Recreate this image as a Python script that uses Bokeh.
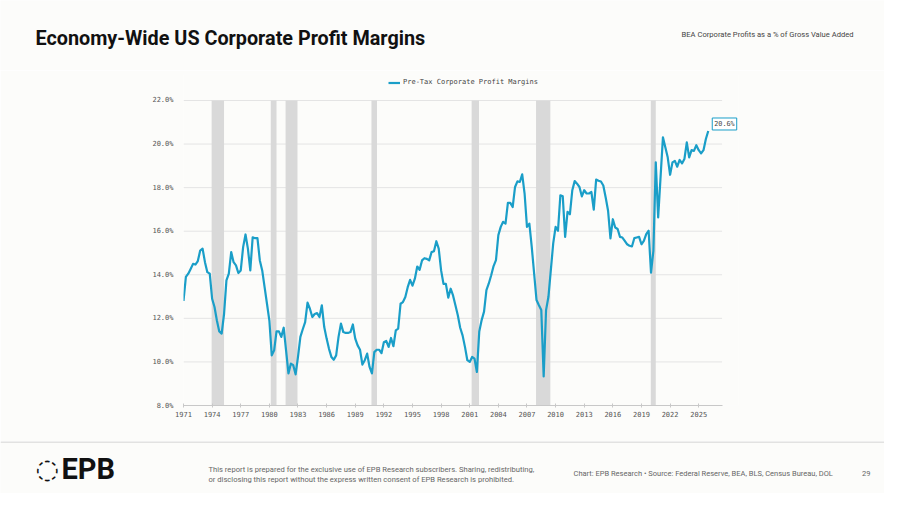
from bokeh.plotting import figure
from bokeh.layouts import column
from bokeh.models import (Range1d, FixedTicker, PrintfTickFormatter, Label,
                          BoxAnnotation, Legend, LegendItem, ColumnDataSource)
from bokeh.embed import file_html
from bokeh.resources import INLINE
import numpy as np

# ---------------- data ----------------
start_year = 1971.0  # first quarter shown (1971Q1)
margins = [
    12.8, 13.9, 14.05, 14.27,     # 1971
    14.5, 14.47, 14.63, 15.11,    # 1972
    15.2, 14.58, 14.12, 14.05,    # 1973
    12.9, 12.52, 11.9, 11.4,      # 1974
    11.3, 12.2, 13.74, 14.05,     # 1975
    15.04, 14.58, 14.43, 14.08,   # 1976
    14.2, 15.27, 15.85, 15.2,     # 1977
    14.2, 15.72, 15.68, 15.68,    # 1978
    14.66, 14.2, 13.43, 12.67,    # 1979
    11.9, 10.3, 10.53, 11.4,      # 1980
    11.4, 11.15, 11.57, 10.53,    # 1981
    9.47, 9.92, 9.85, 9.43,       # 1982
    10.23, 11.15, 11.5, 11.83,    # 1983
    12.72, 12.44, 12.06, 12.2,    # 1984
    12.24, 12.06, 12.6, 11.6,     # 1985
    11.07, 10.6, 10.23, 10.1,     # 1986
    10.3, 11.15, 11.76, 11.37,    # 1987
    11.33, 11.33, 11.37, 11.72,   # 1988
    11.07, 10.76, 10.56, 9.88,    # 1989
    10.08, 10.38, 9.77, 9.47,     # 1990
    10.45, 10.56, 10.56, 10.4,    # 1991
    10.9, 10.96, 10.69, 11.1,     # 1992
    10.72, 11.45, 11.53, 12.67,   # 1993
    12.75, 12.98, 13.43, 13.77,   # 1994
    13.5, 13.82, 14.38, 14.23,    # 1995
    14.66, 14.76, 14.73, 14.66,   # 1996
    15.04, 15.08, 15.54, 15.2,    # 1997
    14.2, 13.58, 13.58, 12.95,    # 1998
    13.36, 13.05, 12.6, 12.14,    # 1999
    11.57, 11.22, 10.69, 10.08,   # 2000
    10.0, 10.23, 10.15, 9.54,     # 2001
    11.4, 11.92, 12.31, 13.3,     # 2002
    13.6, 13.98, 14.4, 14.67,     # 2003
    15.82, 16.2, 16.43, 16.35,    # 2004
    17.3, 17.3, 17.11, 18.03,     # 2005
    18.29, 18.26, 18.61, 17.73,   # 2006
    16.2, 16.35, 15.28, 14.06,    # 2007
    12.84, 12.6, 12.38, 9.33,     # 2008
    12.38, 12.99, 14.21, 15.44,   # 2009
    16.2, 16.02, 17.65, 17.6,     # 2010
    15.74, 16.89, 16.78, 17.88,   # 2011
    18.3, 18.18, 18.03, 17.6,     # 2012
    17.88, 17.73, 17.73, 17.8,    # 2013
    16.99, 18.37, 18.32, 18.28,   # 2014
    18.1, 17.55, 16.94, 15.67,    # 2015
    16.55, 16.17, 16.1, 15.74,    # 2016
    15.71, 15.56, 15.4, 15.33,    # 2017
    15.3, 15.68, 15.71, 15.74,    # 2018
    15.4, 15.56, 15.87, 16.02,    # 2019
    14.1, 15.1, 19.16, 16.63,     # 2020
    18.47, 20.31, 19.85, 19.39,   # 2021
    18.59, 19.16, 19.23, 18.96,   # 2022
    19.27, 19.11, 19.31, 20.08,   # 2023
    19.39, 19.72, 19.69, 19.95,   # 2024
    19.72, 19.57, 19.72, 20.23,   # 2025
    20.6,
]
recession_start = [1973.95, 1980.15, 1981.7, 1990.7, 2001.2, 2007.95, 2019.98]
recession_end = [1975.25, 1980.75, 1982.95, 1991.28, 2001.97, 2009.45, 2020.5]
x_ticks = [1971, 1974, 1977, 1980, 1983, 1986, 1989, 1992, 1995, 1998,
           2001, 2004, 2007, 2010, 2013, 2016, 2019, 2022, 2025]
y_ticks = [8, 10, 12, 14, 16, 18, 20, 22]
series_name = "Pre-Tax Corporate Profit Margins"
title_text = "Economy-Wide US Corporate Profit Margins"
subtitle_text = "BEA Corporate Profits as a % of Gross Value Added"
disclaimer = ["This report is prepared for the exclusive use of EPB Research "
              "subscribers. Sharing, redistributing,",
              "or disclosing this report without the express written consent "
              "of EPB Research is prohibited."]
source_text = ("Chart: EPB Research  \u2022  Source: Federal Reserve, BEA, BLS, "
               "Census Bureau, DOL")
page_number = "29"

quarters = start_year + 0.25 * np.arange(len(margins))
src = ColumnDataSource(dict(x=quarters, y=margins))

# ---------------- styling ----------------
BG = "#fcfcfa"
BLUE = "#1a9ec8"
MONO = "DejaVu Sans Mono"
SANS = "Roboto"
W = 884
H_HEAD, H_MAIN, H_FOOT = 70, 371, 52
PLOT_END = 2027.45   # where grid lines / axis stop


def blank(h):
    f = figure(width=W, height=h, output_backend="svg", toolbar_location=None,
               x_range=Range1d(0, W), y_range=Range1d(h, 0),
               x_axis_location=None, y_axis_location=None,
               min_border_left=0, min_border_right=0,
               min_border_top=0, min_border_bottom=0, frame_align=False)
    f.grid.visible = False
    f.outline_line_color = None
    f.background_fill_color = BG
    f.border_fill_color = BG
    return f


def txt(f, x, y, text, size, font=SANS, style="normal", color="#222222",
        align="left"):
    f.add_layout(Label(x=x, y=y, text=text, text_font=font,
                       text_font_size=size, text_font_style=style,
                       text_color=color, text_align=align,
                       text_baseline="middle"))


# ---------------- header ----------------
head = blank(H_HEAD)
txt(head, 35, 38, title_text, "19.8px", style="bold", color="#111111")
txt(head, 853, 34, subtitle_text, "7.6px", color="#444444", align="right")

# ---------------- main chart ----------------
p = figure(width=W, height=H_MAIN, output_backend="svg", toolbar_location=None,
           x_range=Range1d(1971, 2029.17), y_range=Range1d(8, 23.193),
           min_border_left=183, min_border_right=146,
           min_border_top=4, min_border_bottom=36, frame_align=False)
p.background_fill_color = BG
p.border_fill_color = BG
p.outline_line_color = None

for s, e in zip(recession_start, recession_end):
    p.add_layout(BoxAnnotation(left=s, right=e, bottom=y_ticks[0],
                               top=y_ticks[-1], fill_color="#d9d9d9",
                               fill_alpha=1.0, line_color=None,
                               level="underlay"))

# horizontal grid lines limited to the plotting span
p.segment(x0=1971, x1=PLOT_END, y0=y_ticks, y1=y_ticks,
          line_color="#e4e4e4", line_width=1, level="underlay")

line = p.line("x", "y", source=src, line_color=BLUE, line_width=2.2,
              line_join="round")

p.xaxis.ticker = FixedTicker(ticks=x_ticks)
p.xaxis.formatter = PrintfTickFormatter(format="%d")
p.yaxis.ticker = FixedTicker(ticks=y_ticks)
p.yaxis.formatter = PrintfTickFormatter(format="%.1f%%")
for ax in (p.xaxis, p.yaxis):
    ax.major_label_text_font = MONO
    ax.major_label_text_font_size = "7px"
    ax.major_label_text_color = "#555555"
    ax.minor_tick_line_color = None
p.xaxis.bounds = (1971, PLOT_END)
p.xaxis.axis_line_color = "#c8c8c8"
p.xaxis.major_tick_line_color = "#c8c8c8"
p.xaxis.major_tick_in = 2
p.xaxis.major_tick_out = 2
p.xaxis.major_label_standoff = 3
p.yaxis.axis_line_color = None
p.yaxis.major_tick_line_color = None
p.yaxis.major_label_standoff = 4
p.grid.visible = False

legend = Legend(items=[LegendItem(label=series_name, renderers=[line])],
                orientation="horizontal", location=(205, 319),
                label_text_font=MONO, label_text_font_size="7px",
                label_text_color="#444444", glyph_width=12, glyph_height=7,
                label_standoff=3, padding=2, margin=0, spacing=0,
                background_fill_alpha=0, border_line_color=None)
p.add_layout(legend)

p.add_layout(Label(x=quarters[-1], y=margins[-1], text=f"{margins[-1]:.1f}%",
                   x_offset=4, y_offset=7, text_baseline="middle",
                   text_align="left", text_font=MONO, text_font_size="6.8px",
                   text_color="#444444", background_fill_color="white",
                   border_line_color=BLUE, border_line_width=1, padding=2))

# ---------------- footer ----------------
foot = blank(H_FOOT)
foot.segment(x0=[0], x1=[W], y0=[0.5], y1=[0.5], line_color="#c8c8c8",
             line_width=1)
txt(foot, 35, 27, "\u25cc", "27px", font="DejaVu Sans", style="bold",
    color="#111111")
txt(foot, 61, 27, "EPB", "29px", font="Roboto", style="bold",
    color="#111111")
txt(foot, 208, 28, disclaimer[0], "7.6px", color="#666666")
txt(foot, 208, 38, disclaimer[1], "7.6px", color="#666666")
txt(foot, 573, 32, source_text, "7.5px", color="#666666")
txt(foot, 870, 32, page_number, "7.5px", color="#666666", align="right")

layout = column(head, p, foot, spacing=0)
open("out.html", "w").write(file_html(layout, INLINE))
